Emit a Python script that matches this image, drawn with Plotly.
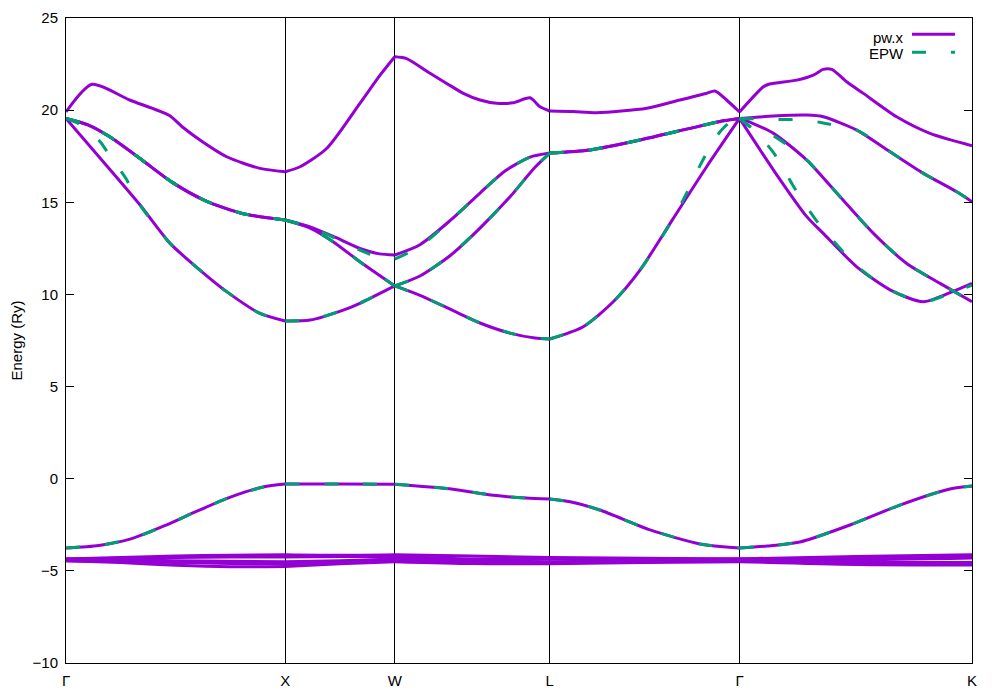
import plotly.graph_objects as go

# High-symmetry points of the k-path
HS_K = [0.0, 1.0, 1.5, 2.2071, 3.0731, 4.1338]
HS_LABELS = ["Γ", "X", "W", "L", "Γ", "K"]

# ---------------- pw.x bands ----------------
TOP_K = [0, 0.119, 0.29, 0.47, 0.53, 0.611, 0.733, 0.885, 1.0,
         1.068, 1.189, 1.341, 1.433, 1.5,
         1.554, 1.661, 1.737, 1.813, 1.889, 1.965, 2.040, 2.117, 2.163, 2.2071,
         2.315, 2.421, 2.650, 2.801, 2.92, 2.961, 3.014, 3.0731,
         3.182, 3.21, 3.334, 3.41, 3.455, 3.494, 3.562, 3.638, 3.790, 3.942, 4.1338]
TOP_E = [19.9, 21.4, 20.55, 19.72, 19.1, 18.38, 17.47, 16.84, 16.66,
         16.93, 17.92, 20.37, 21.9, 22.9,
         22.8, 22.0, 21.45, 20.91, 20.55, 20.37, 20.4, 20.67, 20.18, 19.95,
         19.92, 19.86, 20.1, 20.55, 20.9, 21.04, 20.55, 19.9,
         21.27, 21.42, 21.63, 21.9, 22.21, 22.21, 21.54, 20.91, 19.64, 18.74, 18.07]

B5_K = [0, 0.17, 0.338, 0.475, 0.611, 0.733, 0.885, 1.0,
        1.114, 1.265, 1.341, 1.5,
        1.615, 1.752, 1.889, 2.026, 2.14, 2.2071,
        2.360, 2.497, 2.619, 2.771, 2.923, 3.0731,
        3.228, 3.380, 3.455, 3.608, 3.760, 3.912, 4.064, 4.1338]
B5_E = [19.55, 17.2, 14.85, 12.77, 11.32, 10.15, 8.97, 8.56,
        8.61, 9.15, 9.52, 10.46,
        9.95, 9.2, 8.45, 7.9, 7.63, 7.58,
        8.25, 9.60, 11.32, 14.13, 16.93, 19.55,
        16.75, 14.22, 13.31, 11.50, 10.25, 9.60, 10.25, 10.6]

B6_K = [0, 0.1, 0.196, 0.341, 0.485, 0.637, 0.809, 1.0,
        1.114, 1.22, 1.341, 1.5,
        1.615, 1.752, 1.889, 2.026, 2.14, 2.2071,
        2.391, 2.619, 2.847, 2.999, 3.0731,
        3.13, 3.228, 3.380, 3.532, 3.684, 3.836, 3.988, 4.1338]
B6_E = [19.55, 19.2, 18.58, 17.35, 16.08, 15.08, 14.38, 14.04,
        13.6, 12.85, 11.77, 10.46,
        11.0, 12.1, 13.6, 15.3, 16.9, 17.67,
        17.84, 18.38, 19.01, 19.42, 19.55,
        19.3, 18.74, 17.29, 15.30, 13.31, 11.68, 10.6, 9.6]

B7_K = [0, 0.1, 0.196, 0.341, 0.485, 0.637, 0.809, 1.0,
        1.114, 1.22, 1.341, 1.43, 1.5,
        1.615, 1.752, 1.889, 2.003, 2.117, 2.2071,
        2.391, 2.619, 2.847, 2.999, 3.0731,
        3.228, 3.380, 3.455, 3.608, 3.760, 3.912, 4.064, 4.1338]
B7_E = [19.55, 19.2, 18.58, 17.35, 16.08, 15.08, 14.38, 14.04,
        13.67, 13.15, 12.5, 12.2, 12.14,
        12.7, 14.0, 15.5, 16.7, 17.45, 17.67,
        17.84, 18.38, 19.01, 19.42, 19.55,
        19.68, 19.73, 19.64, 18.92, 17.74, 16.57, 15.57, 15.03]

S_K = [0, 0.15, 0.3, 0.45, 0.6, 0.75, 0.9, 1.0,
       1.25, 1.5,
       1.75, 1.95, 2.1, 2.2071,
       2.30, 2.436, 2.665, 2.893, 3.0731,
       3.20, 3.349, 3.577, 3.805, 4.033, 4.1338]
S_E = [-3.76, -3.62, -3.25, -2.55, -1.75, -1.0, -0.45, -0.29,
       -0.29, -0.3,
       -0.55, -0.9, -1.05, -1.1,
       -1.25, -1.70, -2.78, -3.54, -3.76,
       -3.65, -3.43, -2.51, -1.43, -0.56, -0.4]

D_K = [0, 0.25, 0.5, 0.75, 1.0, 1.25, 1.5, 1.85, 2.2071, 2.64, 3.0731, 3.6, 4.1338]
D1_E = [-4.45, -4.55, -4.70, -4.78, -4.76, -4.62, -4.50, -4.60, -4.62, -4.55, -4.50, -4.65, -4.68]
D2_E = [-4.45, -4.50, -4.55, -4.60, -4.62, -4.55, -4.45, -4.55, -4.57, -4.50, -4.45, -4.55, -4.55]
D3_E = [-4.35, -4.40, -4.45, -4.48, -4.50, -4.45, -4.35, -4.45, -4.50, -4.45, -4.35, -4.40, -4.30]
D4_E = [-4.35, -4.32, -4.28, -4.25, -4.25, -4.22, -4.22, -4.35, -4.35, -4.35, -4.35, -4.30, -4.20]
D5_E = [-4.35, -4.28, -4.20, -4.15, -4.12, -4.15, -4.12, -4.20, -4.28, -4.32, -4.35, -4.22, -4.12]

# ---------------- EPW (Wannier-interpolated) bands ----------------
EPW_S_K = [0, 0.15, 0.3, 0.45, 0.6, 0.75, 0.9, 1.0,
           1.25, 1.5,
           1.75, 1.95, 2.1, 2.2071,
           2.30, 2.436, 2.665, 2.893, 3.0731,
           3.20, 3.349, 3.577, 3.805, 4.033, 4.1338]
EPW_S_E = [-3.76, -3.62, -3.25, -2.55, -1.75, -1.0, -0.45, -0.29,
           -0.29, -0.3,
           -0.55, -0.9, -1.05, -1.1,
           -1.25, -1.70, -2.78, -3.54, -3.76,
           -3.65, -3.43, -2.51, -1.43, -0.56, -0.4]

EPW_B5_K = [0, 0.06, 0.155, 0.193, 0.273, 0.338, 0.475, 0.611, 0.733, 0.885, 1.0,
            1.114, 1.265, 1.341, 1.5,
            1.615, 1.752, 1.889, 2.026, 2.14, 2.2071,
            2.360, 2.497, 2.619, 2.771, 2.83, 2.893, 2.966, 3.02, 3.0731,
            3.13, 3.228, 3.333, 3.436, 3.608, 3.760, 3.912, 4.064, 4.1338]
EPW_B5_E = [19.55, 19.25, 18.3, 17.65, 16.3, 14.85, 12.77, 11.32, 10.15, 8.97, 8.56,
            8.61, 9.15, 9.52, 10.46,
            9.95, 9.2, 8.45, 7.9, 7.63, 7.58,
            8.25, 9.60, 11.32, 14.13, 15.45, 17.0, 18.55, 19.25, 19.55,
            19.0, 17.7, 15.6, 13.82, 11.55, 10.25, 9.6, 10.2, 10.5]

EPW_B6_K = [0, 0.1, 0.196, 0.341, 0.485, 0.637, 0.809, 1.0,
            1.114, 1.22, 1.341, 1.5,
            1.615, 1.752, 1.889, 2.026, 2.14, 2.2071,
            2.391, 2.619, 2.847, 2.999, 3.0731,
            3.13, 3.228, 3.380, 3.532, 3.684, 3.836, 3.988, 4.1338]
EPW_B6_E = [19.55, 19.2, 18.58, 17.35, 16.08, 15.08, 14.38, 14.04,
            13.6, 12.85, 11.77, 10.46,
            11.0, 12.1, 13.6, 15.3, 16.9, 17.67,
            17.84, 18.38, 19.01, 19.42, 19.55,
            19.05, 18.6, 17.29, 15.30, 13.31, 11.68, 10.6, 9.6]

EPW_B7_K = [0, 0.1, 0.196, 0.341, 0.485, 0.637, 0.809, 1.0,
            1.114, 1.22, 1.341, 1.43, 1.5,
            1.615, 1.752, 1.889, 2.003, 2.117, 2.2071,
            2.391, 2.619, 2.847, 2.999, 3.0731,
            3.228, 3.380, 3.455, 3.608, 3.760, 3.912, 4.064, 4.1338]
EPW_B7_E = [19.55, 19.2, 18.58, 17.35, 16.08, 15.08, 14.38, 14.04,
            13.67, 13.1, 12.4, 12.0, 11.92,
            12.6, 14.0, 15.5, 16.7, 17.45, 17.67,
            17.84, 18.38, 19.01, 19.42, 19.55,
            19.5, 19.46, 19.3, 18.92, 17.74, 16.57, 15.57, 15.03]

PW_BANDS = [(S_K, S_E), (D_K, D1_E), (D_K, D2_E), (D_K, D3_E), (D_K, D4_E), (D_K, D5_E),
            (B5_K, B5_E), (B6_K, B6_E), (B7_K, B7_E), (TOP_K, TOP_E)]
EPW_BANDS = [(EPW_S_K, EPW_S_E), (EPW_B5_K, EPW_B5_E), (EPW_B6_K, EPW_B6_E), (EPW_B7_K, EPW_B7_E)]

PURPLE = "#9400D3"
GREEN = "#009E73"
FONT = "Liberation Sans, Arial, sans-serif"


def with_breaks(ks, es):
    """Break each band into path segments at the interior high-symmetry points."""
    xs, ys = [], []
    inner = HS_K[1:-1]
    for i, (k, e) in enumerate(zip(ks, es)):
        xs.append(k)
        ys.append(e)
        if 0 < i < len(ks) - 1 and any(abs(k - h) < 1e-6 for h in inner):
            xs += [None, k]
            ys += [None, e]
    return xs, ys


def join(bands):
    X, Y = [], []
    for ks, es in bands:
        xs, ys = with_breaks(ks, es)
        X += xs + [None]
        Y += ys + [None]
    return X, Y


fig = go.Figure()
px_, py_ = join(PW_BANDS)
fig.add_trace(go.Scatter(x=px_, y=py_, mode="lines", name="pw.x", connectgaps=False,
                         line=dict(color=PURPLE, width=3, shape="spline", smoothing=0.7),
                         showlegend=False))
ex_, ey_ = join(EPW_BANDS)
fig.add_trace(go.Scatter(x=ex_, y=ey_, mode="lines", name="EPW", connectgaps=False,
                         line=dict(color=GREEN, width=3, shape="spline", smoothing=0.7,
                                   dash="14px,25px"),
                         showlegend=False))

# gnuplot-style key (text left of the sample)
fig.add_annotation(xref="paper", yref="paper", x=0.9267, y=0.9705, text="pw.x",
                   showarrow=False, xanchor="right", yanchor="middle",
                   font=dict(family=FONT, size=15, color="black"))
fig.add_annotation(xref="paper", yref="paper", x=0.9267, y=0.9442, text="EPW",
                   showarrow=False, xanchor="right", yanchor="middle",
                   font=dict(family=FONT, size=15, color="black"))
fig.add_shape(type="line", xref="paper", yref="paper", x0=0.9338, x1=0.9812,
              y0=0.9748, y1=0.9748, line=dict(color=PURPLE, width=3))
fig.add_shape(type="line", xref="paper", yref="paper", x0=0.9338, x1=0.9812,
              y0=0.9468, y1=0.9468, line=dict(color=GREEN, width=3, dash="14px,25px"))

# the page places the figure 8px in from the top-left corner; margins compensate
fig.update_layout(
    width=1000, height=700,
    margin=dict(l=58, r=36, t=10, b=45, autoexpand=False),
    paper_bgcolor="white", plot_bgcolor="white",
    font=dict(family=FONT, size=15, color="black"),
    showlegend=False,
)
fig.update_xaxes(range=[HS_K[0], HS_K[-1]], tickmode="array", tickvals=HS_K, ticktext=HS_LABELS,
                 showgrid=True, gridcolor="black", gridwidth=1, ticks="",
                 showline=True, linecolor="black", linewidth=1, mirror=True,
                 zeroline=False, ticklabelstandoff=4)
fig.update_yaxes(range=[-10, 25], tickmode="linear", tick0=-10, dtick=5,
                 ticks="inside", ticklen=8, tickcolor="black", mirror="ticks",
                 showline=True, linecolor="black", linewidth=1, showgrid=False,
                 zeroline=False, ticklabelstandoff=4,
                 title=dict(text="Energy (Ry)", standoff=8, font=dict(size=15)))

fig.write_html("out.html")
